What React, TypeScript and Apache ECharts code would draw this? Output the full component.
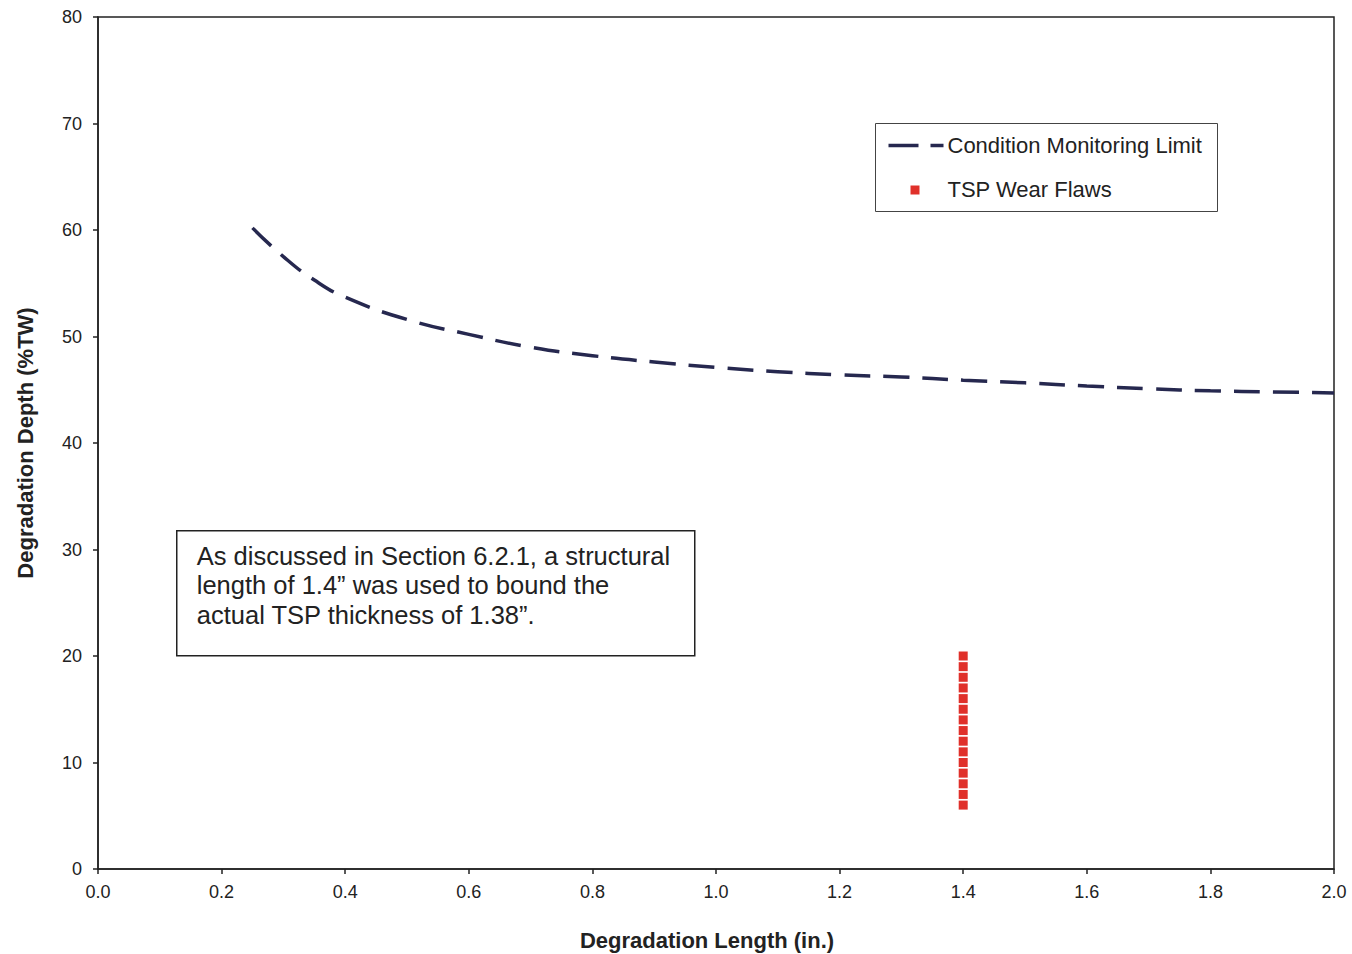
import React, { useEffect, useRef } from "react";
import * as echarts from "echarts";

const limitX = [0.25, 0.3, 0.35, 0.4, 0.5, 0.6, 0.7, 0.8, 0.9, 1.0, 1.1, 1.2, 1.3, 1.4, 1.5, 1.6, 1.7, 1.8, 1.9, 2.0];
const limitY = [60.2, 57.5, 55.3, 53.7, 51.6, 50.2, 49.0, 48.2, 47.6, 47.1, 46.7, 46.4, 46.2, 45.9, 45.65, 45.35, 45.1, 44.9, 44.8, 44.7];

const flawX = [1.4, 1.4, 1.4, 1.4, 1.4, 1.4, 1.4, 1.4, 1.4, 1.4, 1.4, 1.4, 1.4, 1.4, 1.4];
const flawY = [6, 7, 8, 9, 10, 11, 12, 13, 14, 15, 16, 17, 18, 19, 20];

const seriesNames = ["Condition Monitoring Limit", "TSP Wear Flaws"];
const xTitle = "Degradation Length (in.)";
const yTitle = "Degradation Depth (%TW)";
const noteLines = [
  "As discussed in Section 6.2.1, a structural",
  "length of 1.4\u201d was used to bound the",
  "actual TSP thickness of 1.38\u201d.",
];

const FONT = "'Liberation Sans', Arial, Helvetica, sans-serif";
const LINE_COLOR = "#26284f";
const FLAW_COLOR = "#e0302a";

export default function App() {
  const ref = useRef<HTMLDivElement>(null);
  useEffect(() => {
    if (!ref.current) return;
    const chart = echarts.init(ref.current, null, { renderer: "svg" });
    chart.setOption({
      animation: false,
      backgroundColor: "#ffffff",
      textStyle: { fontFamily: FONT },
      grid: {
        left: 98,
        right: 18,
        top: 17,
        bottom: 85,
        containLabel: false,
        outerBoundsMode: "none",
        show: true,
        borderColor: "#222",
        borderWidth: 1.5,
        backgroundColor: "transparent",
      },
      xAxis: {
        type: "value",
        min: 0,
        max: 2,
        interval: 0.2,
        name: xTitle,
        nameLocation: "middle",
        nameGap: 60,
        nameTextStyle: {
          fontFamily: FONT,
          fontSize: 22,
          fontWeight: "bold",
          color: "#222",
          padding: [0, 18, 0, 0],
        },
        axisLine: { show: true, lineStyle: { color: "#222", width: 1.5 } },
        axisTick: { show: true, inside: false, length: 5, lineStyle: { color: "#222", width: 1.5 } },
        axisLabel: {
          fontFamily: FONT,
          fontSize: 18,
          color: "#222",
          margin: 14,
          formatter: (v: number) => v.toFixed(1),
        },
        splitLine: { show: false },
      },
      yAxis: {
        type: "value",
        min: 0,
        max: 80,
        interval: 10,
        name: yTitle,
        nameLocation: "middle",
        nameGap: 62,
        nameTextStyle: { fontFamily: FONT, fontSize: 22, fontWeight: "bold", color: "#222" },
        axisLine: { show: true, lineStyle: { color: "#222", width: 1.5 } },
        axisTick: { show: true, inside: false, length: 5, lineStyle: { color: "#222", width: 1.5 } },
        axisLabel: { fontFamily: FONT, fontSize: 18, color: "#222", margin: 16 },
        splitLine: { show: false },
      },
      series: [
        {
          name: seriesNames[0],
          type: "line",
          smooth: 0.5,
          symbol: "none",
          data: limitX.map((x, i) => [x, limitY[i]]),
          lineStyle: { color: LINE_COLOR, width: 3.5, type: [26, 13] },
          itemStyle: { color: LINE_COLOR },
          z: 3,
        },
        {
          name: seriesNames[1],
          type: "scatter",
          symbol: "rect",
          symbolSize: 9,
          data: flawX.map((x, i) => [x, flawY[i]]),
          itemStyle: { color: FLAW_COLOR, opacity: 1 },
          z: 4,
        },
      ],
      graphic: [
        {
          type: "group",
          left: 875,
          top: 123,
          children: [
            {
              type: "rect",
              shape: { x: 0, y: 0, width: 342, height: 88 },
              style: { fill: "#fff", stroke: "#444", lineWidth: 1 },
            },
            {
              type: "line",
              shape: { x1: 13, y1: 22, x2: 68, y2: 22 },
              style: { stroke: LINE_COLOR, lineWidth: 3.5, lineDash: [30, 12] },
            },
            {
              type: "rect",
              shape: { x: 35, y: 62, width: 9, height: 9 },
              style: { fill: FLAW_COLOR },
            },
            {
              type: "text",
              x: 72,
              y: 22,
              style: {
                text: seriesNames[0],
                font: `22px ${FONT}`,
                fill: "#222",
                verticalAlign: "middle",
              },
            },
            {
              type: "text",
              x: 72,
              y: 66,
              style: {
                text: seriesNames[1],
                font: `22px ${FONT}`,
                fill: "#222",
                verticalAlign: "middle",
              },
            },
          ],
        },
        {
          type: "group",
          left: 176,
          top: 530,
          children: [
            {
              type: "rect",
              shape: { x: 0, y: 0, width: 518, height: 125 },
              style: { fill: "#fff", stroke: "#222", lineWidth: 1.5 },
            },
            {
              type: "text",
              x: 20,
              y: 10,
              style: {
                text: noteLines.join("\n"),
                font: `25.5px ${FONT}`,
                fill: "#222",
                lineHeight: 29.5,
              },
            },
          ],
        },
      ],
    });
    return () => chart.dispose();
  }, []);
  return (
    <div
      ref={ref}
      style={{ position: "absolute", left: 0, top: 0, width: 1352, height: 954 }}
    />
  );
}
